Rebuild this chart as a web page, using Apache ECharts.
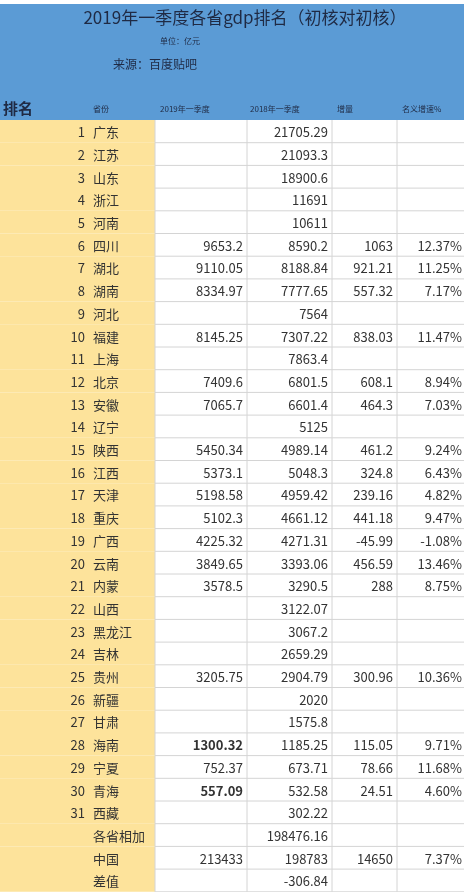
<!DOCTYPE html>
<html><head><meta charset="utf-8">
<script src="https://cdn.jsdelivr.net/npm/echarts@6/dist/echarts.min.js"></script>
<style>html,body{margin:0;padding:0;background:#fff}#main{width:464px;height:892px}</style>
</head><body><div id="main"></div>
<script>
// 排名 / 省份
var ranks = ['1','2','3','4','5','6','7','8','9','10','11','12','13','14','15','16','17','18','19','20','21','22','23','24','25','26','27','28','29','30','31','','',''];
var provinces = ['广东','江苏','山东','浙江','河南','四川','湖北','湖南','河北','福建','上海','北京','安徽','辽宁','陕西','江西','天津','重庆','广西','云南','内蒙','山西','黑龙江','吉林','贵州','新疆','甘肃','海南','宁夏','青海','西藏','各省相加','中国','差值'];
var gdp2019 = ['','','','','','9653.2','9110.05','8334.97','','8145.25','','7409.6','7065.7','','5450.34','5373.1','5198.58','5102.3','4225.32','3849.65','3578.5','','','','3205.75','','','1300.32','752.37','557.09','','','213433',''];
var gdp2018 = ['21705.29','21093.3','18900.6','11691','10611','8590.2','8188.84','7777.65','7564','7307.22','7863.4','6801.5','6601.4','5125','4989.14','5048.3','4959.42','4661.12','4271.31','3393.06','3290.5','3122.07','3067.2','2659.29','2904.79','2020','1575.8','1185.25','673.71','532.58','302.22','198476.16','198783','-306.84'];
var increase = ['','','','','','1063','921.21','557.32','','838.03','','608.1','464.3','','461.2','324.8','239.16','441.18','-45.99','456.59','288','','','','300.96','','','115.05','78.66','24.51','','','14650',''];
var growth = ['','','','','','12.37%','11.25%','7.17%','','11.47%','','8.94%','7.03%','','9.24%','6.43%','4.82%','9.47%','-1.08%','13.46%','8.75%','','','','10.36%','','','9.71%','11.68%','4.60%','','','7.37%',''];
var headers = ['省份','2019年一季度','2018年一季度','增量','名义增速%'];

var colEdges = [0, 155, 247, 332, 397, 464];
var rowIdx = provinces.map(function (p, i) { return i; });
var chart = echarts.init(document.getElementById('main'));
var FONT = '"Noto Sans CJK SC", sans-serif';

chart.setOption({
  animation: false,
  grid: { left: 0, right: 0, top: 120, height: 34 * 22.7 },
  xAxis: { type: 'value', min: 0, max: 464, show: false },
  yAxis: { type: 'category', data: rowIdx, inverse: true, show: false },
  graphic: [
    { type: 'rect', shape: { x: 0, y: 4, width: 464, height: 116 }, style: { fill: '#5b9bd5' } },
    { type: 'text', style: { x: 245, y: 18, text: '2019年一季度各省gdp排名（初核对初核）', font: '17px ' + FONT, fill: '#1f2a44', align: 'center', verticalAlign: 'middle' } },
    { type: 'text', style: { x: 160, y: 41, text: '单位：亿元', font: '8px ' + FONT, fill: '#1f2a44', verticalAlign: 'middle' } },
    { type: 'text', style: { x: 113, y: 64, text: '来源：百度贴吧', font: '12px ' + FONT, fill: '#1f2a44', verticalAlign: 'middle' } },
    { type: 'text', style: { x: 3, y: 108, text: '排名', font: 'bold 15px ' + FONT, fill: '#1f2a44', verticalAlign: 'middle' } }
  ].concat(headers.map(function (h, i) {
    return { type: 'text', style: { x: [93, 160, 250, 337, 402][i], y: 109, text: h, font: '8px ' + FONT, fill: '#1f2a44', verticalAlign: 'middle' } };
  })),
  series: [{
    type: 'custom',
    data: rowIdx.map(function (i) { return [0, i]; }),
    renderItem: function (params, api) {
      var i = api.value(1);
      var c = api.coord([0, i]);
      var h = api.size([0, 1])[1];
      var top = c[1] - h / 2;
      var kids = [
        { type: 'rect', shape: { x: 0, y: top, width: 155, height: h }, style: { fill: '#fde39b' } },
        { type: 'line', shape: { x1: 155, y1: top + h, x2: 464, y2: top + h }, style: { stroke: '#d4d4d4', lineWidth: 1 } }
      ];
      for (var k = 1; k < colEdges.length - 1; k++) {
        kids.push({ type: 'line', shape: { x1: colEdges[k], y1: top, x2: colEdges[k], y2: top + h }, style: { stroke: '#d4d4d4', lineWidth: 1 } });
      }
      var txt = function (x, s, align, extra) {
        kids.push({ type: 'text', style: { x: x, y: c[1] + 1, text: s, font: (extra || '') + '13px ' + FONT, fill: '#333', align: align, verticalAlign: 'middle' } });
      };
      txt(85, ranks[i], 'right');
      txt(93, provinces[i], 'left');
      txt(243, gdp2019[i], 'right', (i === 27 || i === 29) ? 'bold ' : '');
      txt(328, gdp2018[i], 'right');
      txt(393, increase[i], 'right');
      txt(462, growth[i], 'right');
      return { type: 'group', children: kids };
    }
  }]
});
</script></body></html>
